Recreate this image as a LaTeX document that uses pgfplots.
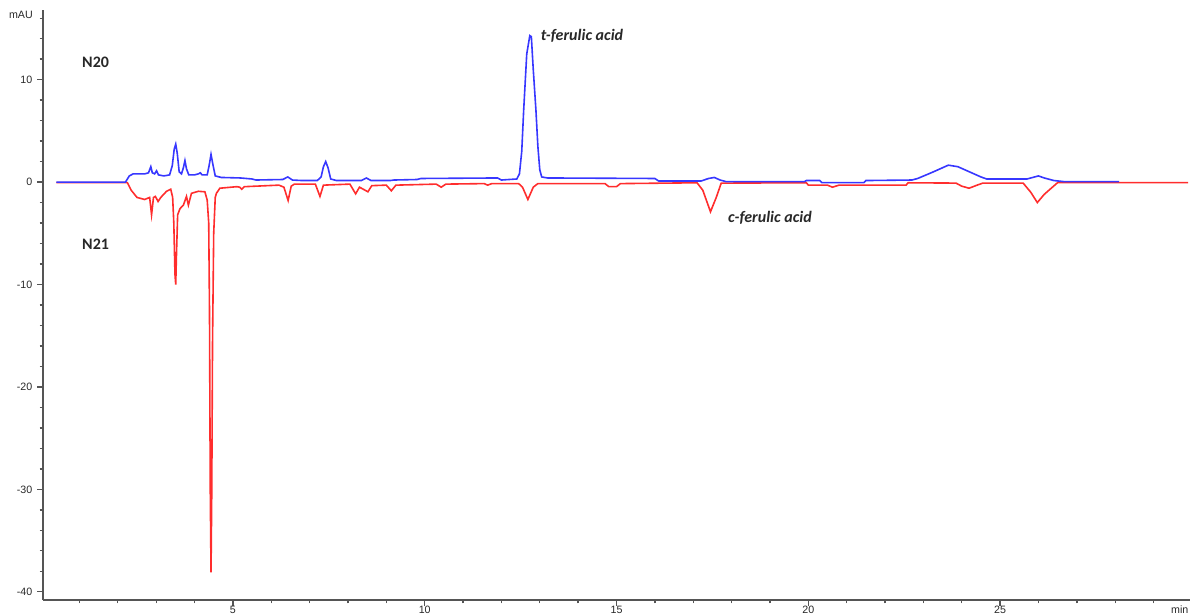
\documentclass[border=0pt]{standalone}
\usepackage{fontspec}
\setmainfont{Liberation Sans}
\newfontfamily\calfont{Carlito}
\usepackage{pgfplots}
\pgfplotsset{compat=1.18}
\definecolor{cblue}{RGB}{55,55,255}
\definecolor{cred}{RGB}{255,45,45}
\definecolor{axgray}{RGB}{85,85,85}
\definecolor{txtgray}{RGB}{40,40,40}
\begin{document}
\begin{tikzpicture}
\path[use as bounding box] (-32.25pt,-12pt) rectangle (860.25pt,450pt);
\begin{axis}[
 at={(0pt,0pt)}, anchor=south west,
 scale only axis, width=860.25pt, height=442.5pt,
 xmin=0.05, xmax=29.95, ymin=-40.8, ymax=16.8,
 axis lines=left, axis line style={-, axgray, line width=1.3pt},
 tick align=outside,
 major tick length=4.5pt, minor tick length=2.5pt,
 every tick/.style={axgray, line width=1pt},
 xtick={5,10,15,20,25}, xticklabels={5,10,15,20,25},
 minor xtick={1,2,3,4,6,7,8,9,11,12,13,14,16,17,18,19,21,22,23,24,26,27,28,29},
 ytick={-40,-30,-20,-10,0,10}, yticklabels={-40,-30,-20,-10,0,10},
 minor ytick={-38,-36,-34,-32,-28,-26,-24,-22,-18,-16,-14,-12,-8,-6,-4,-2,2,4,6,8,12,14,16},
 ticklabel style={font=\fontsize{8}{9}\selectfont, text=txtgray},
 xticklabel style={inner sep=1pt, yshift=1pt},
 clip=false,
]
\addplot[cred, line width=1.2pt] coordinates {
(0.40,-0.05) (2.25,-0.05) (2.35,-0.8) (2.50,-1.5) (2.70,-1.7) (2.83,-1.5) (2.88,-3.2) (2.93,-1.5)
(2.98,-1.4) (3.05,-1.9) (3.12,-1.5) (3.27,-0.9) (3.38,-0.7) (3.43,-1.5) (3.46,-4.0) (3.49,-9.0)
(3.51,-10.0) (3.53,-7.0) (3.56,-3.2) (3.62,-2.6) (3.71,-2.25) (3.79,-1.4) (3.84,-2.25) (3.92,-1.1)
(4.10,-0.9) (4.27,-0.95) (4.33,-1.75) (4.37,-4.0) (4.39,-12.5) (4.41,-30.0) (4.43,-38.1) (4.45,-30.0)
(4.47,-15.4) (4.50,-5.0) (4.54,-1.5) (4.57,-1.1) (4.66,-0.6) (5.10,-0.45) (5.18,-0.5) (5.23,-0.7)
(5.30,-0.45) (6.20,-0.3) (6.33,-0.5) (6.44,-1.8) (6.52,-0.4) (6.60,-0.2) (7.15,-0.2) (7.27,-1.4)
(7.36,-0.3) (8.05,-0.2) (8.20,-1.15) (8.30,-0.5) (8.40,-0.7) (8.52,-0.95) (8.62,-0.35) (9.00,-0.3)
(9.13,-0.85) (9.25,-0.3) (10.30,-0.2) (10.43,-0.5) (10.55,-0.2) (11.55,-0.15) (11.64,-0.3) (11.75,-0.15)
(12.45,-0.15) (12.55,-0.5) (12.69,-1.7) (12.83,-0.5) (12.95,-0.15) (14.70,-0.15) (14.80,-0.45) (15.00,-0.45)
(15.10,-0.15) (17.10,-0.07) (17.25,-0.8) (17.45,-2.9) (17.60,-1.5) (17.73,-0.1) (19.95,-0.07) (20.00,-0.3)
(20.50,-0.3) (20.63,-0.5) (20.80,-0.3) (22.55,-0.3) (22.60,-0.07) (23.85,-0.1) (24.00,-0.4) (24.19,-0.6)
(24.40,-0.3) (24.55,-0.1) (25.60,-0.1) (25.80,-1.0) (25.97,-2.0) (26.15,-1.2) (26.50,-0.05) (29.90,-0.05)
};
\addplot[cblue, line width=1.2pt] coordinates {
(0.40,0) (2.20,0) (2.30,0.6) (2.40,0.8) (2.70,0.8) (2.80,0.9) (2.86,1.5) (2.90,0.9)
(2.96,0.8) (3.01,1.1) (3.06,0.7) (3.20,0.6) (3.35,0.7) (3.42,1.6) (3.47,3.2) (3.51,3.7)
(3.55,2.8) (3.60,1.0) (3.66,0.8) (3.71,1.4) (3.75,2.1) (3.79,1.3) (3.85,0.7) (4.00,0.7)
(4.10,0.8) (4.15,0.9) (4.20,0.7) (4.33,0.7) (4.38,1.6) (4.43,2.7) (4.48,1.7) (4.54,0.6)
(4.70,0.45) (5.20,0.4) (5.50,0.3) (5.60,0.2) (6.30,0.25) (6.43,0.5) (6.55,0.2) (6.80,0.15)
(7.20,0.15) (7.30,0.5) (7.36,1.5) (7.42,2.0) (7.48,1.4) (7.55,0.3) (7.70,0.15) (8.35,0.15)
(8.48,0.4) (8.60,0.15) (9.10,0.15) (9.20,0.2) (9.80,0.25) (9.90,0.35) (11.90,0.4) (12.00,0.2)
(12.40,0.3) (12.47,0.8) (12.53,3.0) (12.58,7.0) (12.66,12.5) (12.74,14.3) (12.78,14.2) (12.83,11.0)
(12.90,7.0) (12.95,3.5) (13.00,1.2) (13.05,0.5) (13.20,0.4) (16.00,0.35) (16.10,0.1) (17.20,0.1)
(17.40,0.35) (17.55,0.45) (17.70,0.2) (17.85,0.05) (19.90,0.05) (19.95,0.15) (20.30,0.15) (20.35,-0.05)
(21.45,-0.05) (21.50,0.15) (22.70,0.2) (22.85,0.35) (23.20,0.9) (23.65,1.65) (23.90,1.5) (24.20,1.0)
(24.50,0.5) (24.65,0.3) (25.70,0.3) (25.85,0.45) (26.00,0.6) (26.15,0.4) (26.40,0.15) (26.65,0.05)
(28.10,0.05)
};
\node[font=\calfont\bfseries\fontsize{12}{14}\selectfont, text=txtgray, anchor=west] at (axis cs:0.95,11.7) {N20};
\node[font=\calfont\bfseries\fontsize{12}{14}\selectfont, text=txtgray, anchor=west] at (axis cs:0.95,-6.05) {N21};
\node[font=\calfont\bfseries\itshape\fontsize{12}{14}\selectfont, text=txtgray, anchor=west, inner sep=0pt] at (axis cs:13.02,14.25) {t-ferulic acid};
\node[font=\calfont\bfseries\itshape\fontsize{12}{14}\selectfont, text=txtgray, anchor=west, inner sep=0pt] at (axis cs:17.9,-3.5) {c-ferulic acid};
\node[font=\fontsize{8}{9}\selectfont, text=txtgray, anchor=east, inner sep=0pt] at ([xshift=-7.5pt,yshift=-4pt]rel axis cs:0,1) {mAU};
\node[font=\fontsize{8}{9}\selectfont, text=txtgray, anchor=north east, inner sep=0pt] at ([xshift=-1pt,yshift=-4.5pt]rel axis cs:1,0) {min};
\end{axis}
\end{tikzpicture}
\end{document}
